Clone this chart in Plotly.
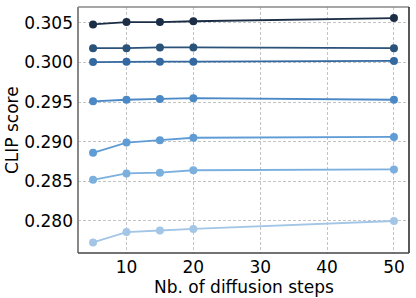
import plotly.graph_objects as go

steps = [5, 10, 15, 20, 50]
s1 = [0.3048, 0.3051, 0.3051, 0.3052, 0.3056]
s2 = [0.3018, 0.3018, 0.3019, 0.3019, 0.3018]
s3 = [0.30005, 0.3001, 0.3001, 0.3001, 0.3002]
s4 = [0.2951, 0.2953, 0.2954, 0.2955, 0.2953]
s5 = [0.2886, 0.2899, 0.2902, 0.2905, 0.2906]
s6 = [0.2852, 0.2860, 0.2861, 0.2864, 0.2865]
s7 = [0.2773, 0.2786, 0.2788, 0.2790, 0.2800]
series = [s7, s6, s5, s4, s3, s2, s1]
colors = ["#a3c6e7", "#7aafde", "#5f9cd6", "#4a88c6", "#3468a0", "#2b5279", "#1b2e45"]

fig = go.Figure()
for ys, c in zip(series, colors):
    fig.add_trace(go.Scatter(x=steps, y=ys, mode="lines+markers",
                             line=dict(color=c, width=1.8),
                             marker=dict(color=c, size=8),
                             showlegend=False))

font = "DejaVu Sans, sans-serif"
fig.update_layout(
    width=416, height=298,
    margin=dict(l=78, r=7, t=7, b=45),
    paper_bgcolor="white", plot_bgcolor="white",
    font=dict(family=font, size=17, color="black"),
    xaxis=dict(range=[2.75, 52.25], tickvals=[10, 20, 30, 40, 50],
               showgrid=True, gridcolor="#c4c4c4", griddash="3px,2px", gridwidth=1,
               zeroline=False, showline=False, ticks="", automargin=False,
               ticklabelstandoff=2),
    yaxis=dict(range=[0.27596, 0.3070], tickvals=[0.280, 0.285, 0.290, 0.295, 0.300, 0.305],
               tickformat=".3f", automargin=False,
               showgrid=True, gridcolor="#c4c4c4", griddash="3px,2px", gridwidth=1,
               zeroline=False, showline=False, ticks="", ticklabelstandoff=4),
    annotations=[
        dict(text="Nb. of diffusion steps", xref="paper", yref="paper", x=0.5, y=0,
             yshift=-22, xanchor="center", yanchor="top", showarrow=False,
             font=dict(size=17)),
        dict(text="CLIP score", xref="paper", yref="paper", x=0, y=0.5,
             xshift=-78, xanchor="left", yanchor="middle", textangle=-90,
             showarrow=False, font=dict(size=17)),
    ],
    shapes=[
        dict(type="line", xref="paper", yref="paper", x0=0, x1=0, y0=0, y1=1,
             line=dict(color="#888888", width=2)),
        dict(type="line", xref="paper", yref="paper", x0=0, x1=1, y0=1, y1=1,
             line=dict(color="#888888", width=1.5)),
        dict(type="line", xref="paper", yref="paper", x0=1, x1=1, y0=0, y1=1,
             line=dict(color="#222222", width=1.5)),
        dict(type="line", xref="paper", yref="paper", x0=0, x1=1, y0=0, y1=0,
             line=dict(color="#444444", width=1.5)),
    ],
)
fig.write_html("out.html", config={"displayModeBar": False},
               post_script="document.body.style.margin='0';document.body.style.overflow='hidden';")
